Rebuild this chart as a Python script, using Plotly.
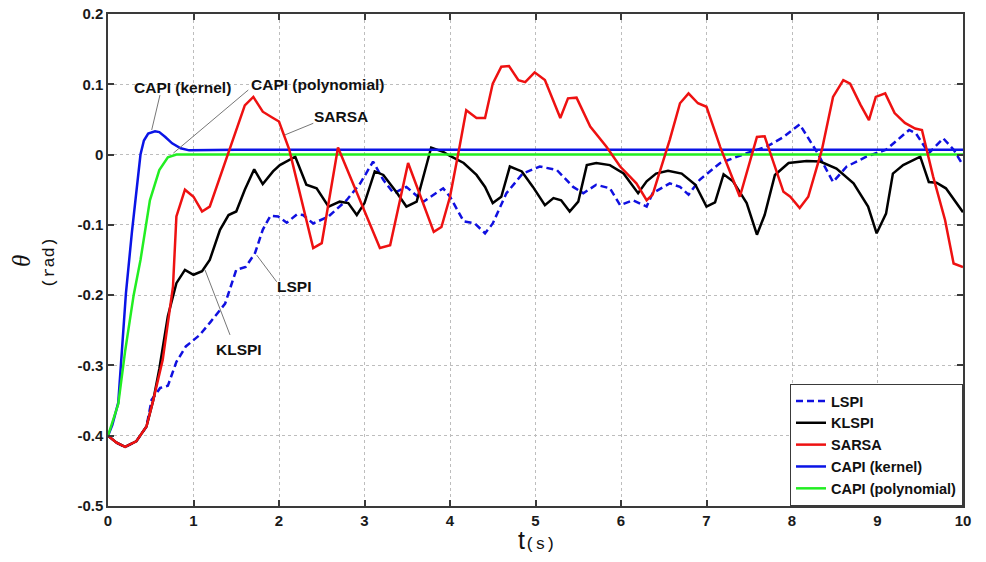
import plotly.graph_objects as go

# ---------------- data ----------------
t_lspi = [0, 0.1, 0.2, 0.33, 0.45, 0.51, 0.61, 0.70, 0.80, 0.91, 1.0, 1.07, 1.2, 1.37, 1.5, 1.61,
          1.72, 1.81, 1.9, 1.99, 2.09, 2.21, 2.28, 2.40, 2.58, 2.79, 2.95, 3.10, 3.22, 3.34, 3.49,
          3.69, 3.92, 4.0, 4.16, 4.29, 4.41, 4.50, 4.66, 4.85, 5.05, 5.25, 5.44, 5.56, 5.71, 5.87,
          5.99, 6.14, 6.30, 6.37, 6.57, 6.69, 6.79, 6.92, 7.16, 7.47, 7.70, 7.90, 8.09, 8.29, 8.48,
          8.64, 8.87, 9.10, 9.37, 9.45, 9.60, 9.77, 9.89, 10.0]
y_lspi = [-0.4, -0.41, -0.416, -0.408, -0.387, -0.349, -0.332, -0.329, -0.295, -0.273, -0.264,
          -0.257, -0.238, -0.212, -0.164, -0.160, -0.140, -0.107, -0.087, -0.088, -0.097, -0.085,
          -0.086, -0.098, -0.088, -0.065, -0.041, -0.010, -0.036, -0.055, -0.046, -0.067, -0.048,
          -0.060, -0.095, -0.098, -0.112, -0.098, -0.055, -0.027, -0.017, -0.022, -0.046, -0.055,
          -0.043, -0.048, -0.072, -0.065, -0.074, -0.055, -0.041, -0.046, -0.057, -0.036, -0.012,
          0.002, 0.011, 0.025, 0.043, 0.004, -0.039, -0.017, -0.003, 0.007, 0.035, 0.030, 0.002,
          0.023, 0.007, -0.015]

t_klspi = [0, 0.1, 0.2, 0.33, 0.45, 0.53, 0.6, 0.65, 0.70, 0.80, 0.90, 1.0, 1.1, 1.19, 1.31, 1.41,
           1.5, 1.6, 1.71, 1.81, 1.93, 2.01, 2.19, 2.32, 2.44, 2.58, 2.71, 2.81, 2.91, 3.0, 3.12,
           3.22, 3.37, 3.49, 3.61, 3.78, 3.92, 4.0, 4.16, 4.31, 4.41, 4.50, 4.60, 4.70, 4.84, 4.97,
           5.11, 5.21, 5.30, 5.40, 5.50, 5.60, 5.71, 5.87, 6.03, 6.11, 6.20, 6.30, 6.41, 6.55, 6.71,
           6.87, 7.0, 7.10, 7.20, 7.31, 7.47, 7.59, 7.68, 7.80, 7.96, 8.17, 8.33, 8.52, 8.72, 8.89,
           8.99, 9.10, 9.18, 9.30, 9.50, 9.60, 9.69, 9.80, 10.0]
y_klspi = [-0.4, -0.41, -0.416, -0.408, -0.387, -0.349, -0.305, -0.27, -0.23, -0.183, -0.164,
           -0.171, -0.166, -0.150, -0.107, -0.086, -0.081, -0.050, -0.021, -0.042, -0.024, -0.015,
           -0.003, -0.043, -0.048, -0.074, -0.067, -0.069, -0.086, -0.069, -0.024, -0.029, -0.053,
           -0.074, -0.067, 0.010, 0.004, -0.002, -0.012, -0.029, -0.046, -0.069, -0.060, -0.017,
           -0.024, -0.046, -0.072, -0.062, -0.065, -0.081, -0.067, -0.015, -0.012, -0.015, -0.027,
           -0.040, -0.055, -0.038, -0.027, -0.023, -0.027, -0.043, -0.074, -0.068, -0.028, -0.038,
           -0.069, -0.114, -0.086, -0.029, -0.012, -0.009, -0.010, -0.020, -0.041, -0.074, -0.112,
           -0.084, -0.027, -0.015, -0.003, -0.039, -0.040, -0.048, -0.082]

t_sarsa = [0, 0.1, 0.2, 0.33, 0.45, 0.53, 0.64, 0.76, 0.8, 0.9, 1.0, 1.1, 1.19, 1.39, 1.54, 1.6,
           1.70, 1.81, 1.93, 2.0, 2.12, 2.4, 2.5, 2.69, 3.18, 3.3, 3.51, 3.81, 3.9, 4.0, 4.11, 4.19,
           4.31, 4.41, 4.50, 4.60, 4.69, 4.80, 4.88, 4.99, 5.11, 5.29, 5.38, 5.48, 5.64, 5.83, 5.99,
           6.18, 6.30, 6.37, 6.57, 6.69, 6.79, 6.90, 7.0, 7.16, 7.39, 7.59, 7.68, 7.90, 7.98, 8.09,
           8.19, 8.35, 8.48, 8.60, 8.68, 8.80, 8.90, 8.98, 9.09, 9.20, 9.32, 9.44, 9.52, 9.65, 9.79,
           9.89, 10.0]
y_sarsa = [-0.4, -0.41, -0.416, -0.408, -0.387, -0.349, -0.292, -0.188, -0.088, -0.050, -0.060,
           -0.081, -0.074, -0.003, 0.049, 0.070, 0.082, 0.061, 0.052, 0.047, 0.007, -0.133, -0.126,
           0.010, -0.133, -0.129, -0.012, -0.110, -0.103, -0.060, 0.010, 0.063, 0.052, 0.052, 0.101,
           0.125, 0.126, 0.106, 0.103, 0.117, 0.106, 0.052, 0.080, 0.081, 0.040, 0.011, -0.017,
           -0.041, -0.065, -0.057, 0.021, 0.073, 0.087, 0.073, 0.068, 0.011, -0.060, 0.025, 0.026,
           -0.053, -0.060, -0.076, -0.060, 0.007, 0.082, 0.106, 0.101, 0.071, 0.049, 0.082, 0.087,
           0.059, 0.045, 0.037, 0.035, -0.031, -0.093, -0.155, -0.160]

t_kernel = [0, 0.05, 0.12, 0.16, 0.21, 0.28, 0.34, 0.38, 0.42, 0.47, 0.55, 0.6, 0.67, 0.75, 0.85,
            0.95, 1.5, 10.0]
y_kernel = [-0.4, -0.385, -0.353, -0.282, -0.197, -0.11, -0.046, 0.0, 0.02, 0.030, 0.033, 0.032,
            0.025, 0.016, 0.009, 0.006, 0.007, 0.007]

t_poly = [0, 0.08, 0.12, 0.2, 0.3, 0.38, 0.49, 0.6, 0.7, 0.8, 10.0]
y_poly = [-0.4, -0.37, -0.355, -0.28, -0.2, -0.15, -0.065, -0.022, -0.004, 0.0, 0.0]

series_names = ["LSPI", "KLSPI", "SARSA", "CAPI (kernel)", "CAPI (polynomial)"]

x_tickvals = [0, 1, 2, 3, 4, 5, 6, 7, 8, 9, 10]
x_ticktext = ["0", "1", "2", "3", "4", "5", "6", "7", "8", "9", "10"]
y_tickvals = [0.2, 0.1, 0, -0.1, -0.2, -0.3, -0.4, -0.5]
y_ticktext = ["0.2", "0.1", "0", "-0.1", "-0.2", "-0.3", "-0.4", "-0.5"]

# callout labels: (text, text x, text y, line from x, from y, to x, to y)
callouts = [
    ("CAPI (kernel)", 0.871, 0.096, 0.608, 0.0847, 0.511, 0.035),
    ("CAPI (polynomial)", 2.45, 0.0995, 1.641, 0.0919, 0.764, 0.002),
    ("SARSA", 2.73, 0.0535, 2.401, 0.0445, 2.07, 0.028),
    ("LSPI", 2.18, -0.188, 1.973, -0.181, 1.739, -0.143),
    ("KLSPI", 1.53, -0.278, 1.427, -0.2566, 1.134, -0.164),
]

# ---------------- figure ----------------
FONT = "Liberation Sans, Arial, sans-serif"
MONO = "Liberation Mono, Courier New, monospace"

fig = go.Figure()
lw = 2.5
fig.add_trace(go.Scatter(x=t_lspi, y=y_lspi, mode="lines", name=series_names[0], legendrank=1,
                         line=dict(color="#1010e0", width=lw, dash="7px,4px")))
fig.add_trace(go.Scatter(x=t_klspi, y=y_klspi, mode="lines", name=series_names[1], legendrank=2,
                         line=dict(color="#000000", width=lw)))
fig.add_trace(go.Scatter(x=t_kernel, y=y_kernel, mode="lines", name=series_names[3], legendrank=4,
                         line=dict(color="#0a14e6", width=lw)))
fig.add_trace(go.Scatter(x=t_poly, y=y_poly, mode="lines", name=series_names[4], legendrank=5,
                         line=dict(color="#22ee22", width=lw)))
fig.add_trace(go.Scatter(x=t_sarsa, y=y_sarsa, mode="lines", name=series_names[2], legendrank=3,
                         line=dict(color="#ee1111", width=lw)))

for txt, tx, ty, x0, y0, x1, y1 in callouts:
    fig.add_shape(type="line", xref="x", yref="y", x0=x0, y0=y0, x1=x1, y1=y1,
                  line=dict(color="#777777", width=1))
    fig.add_annotation(x=tx, y=ty, xref="x", yref="y", text=txt, showarrow=False,
                       font=dict(family=FONT, size=15.5, color="#111111", weight="bold"))

# axis titles (placed as rotated / plain text beside the axes)
fig.add_annotation(xref="paper", yref="paper", x=-0.1006, y=0.498, text="<i>θ</i>",
                   textangle=-90, showarrow=False, xanchor="center", yanchor="middle",
                   font=dict(family="Liberation Serif, DejaVu Serif, serif", size=25, color="#111111"))
fig.add_annotation(xref="paper", yref="paper", x=-0.0678, y=0.494, text="(rad)",
                   textangle=-90, showarrow=False, xanchor="center", yanchor="middle",
                   font=dict(family=MONO, size=17, color="#111111"))
fig.add_annotation(xref="paper", yref="paper", x=0.5018, y=-0.069,
                   text="t<span style='font-family:Liberation Mono;font-size:17px'>(s)</span>",
                   showarrow=False, xanchor="center", yanchor="middle",
                   font=dict(family=FONT, size=25, color="#111111"))

axis_common = dict(
    showline=True, linecolor="#3a3a3a", linewidth=1.5, mirror="ticks",
    ticks="inside", ticklen=6, tickwidth=1.5, tickcolor="#3a3a3a",
    showgrid=True, gridcolor="#bdbdbd", gridwidth=1, griddash="dot",
    zeroline=False, automargin=False, ticklabeloverflow="allow",
    tickfont=dict(family=FONT, size=15, color="#1a1a1a", weight="bold"),
)

fig.update_xaxes(range=[0, 10], tickvals=x_tickvals, ticktext=x_ticktext, **axis_common)
fig.update_yaxes(range=[-0.5, 0.2], tickvals=y_tickvals, ticktext=y_ticktext, **axis_common)

fig.update_layout(
    width=986, height=562,
    margin=dict(l=108, r=23, t=14, b=56),
    paper_bgcolor="white", plot_bgcolor="white",
    showlegend=True,
    legend=dict(x=1, xanchor="right", y=0, yanchor="bottom",
                bgcolor="white", bordercolor="#3a3a3a", borderwidth=1,
                font=dict(family=FONT, size=14.5, color="#111111", weight="bold"),
                tracegroupgap=0, itemwidth=30),
)

# remove the default page margin so the 986x562 figure fills the window exactly
fig.write_html("out.html", config={"displayModeBar": False},
               post_script="document.body.style.margin='0';")
